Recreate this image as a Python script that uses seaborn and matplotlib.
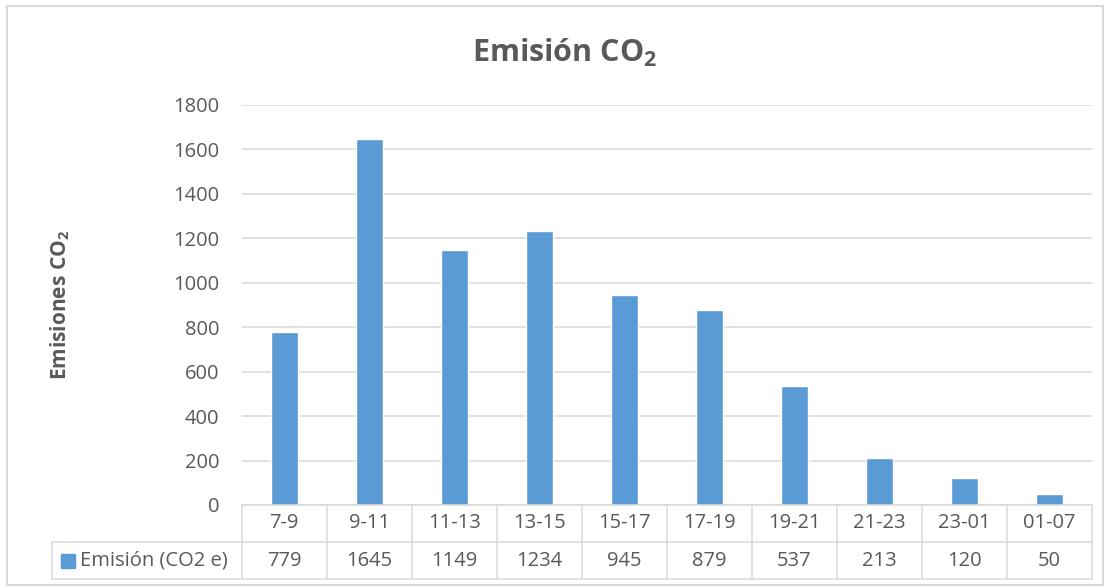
import matplotlib
matplotlib.use("Agg")
import matplotlib.pyplot as plt
import matplotlib.transforms as mtransforms
from matplotlib.patches import Rectangle
import pandas as pd
import seaborn as sns

# datos
franjas = ["7-9", "9-11", "11-13", "13-15", "15-17", "17-19", "19-21", "21-23", "23-01", "01-07"]
emision = [779, 1645, 1149, 1234, 945, 879, 537, 213, 120, 50]
serie = "Emisión (CO2 e)"
yticks = [0, 200, 400, 600, 800, 1000, 1200, 1400, 1600, 1800]

AZUL = "#5b9bd5"
GRIS_TEXTO = "#595959"
GRIS_LINEA = "#d9d9d9"

sns.set_theme(style="white")
plt.rcParams["font.family"] = ["Open Sans", "DejaVu Sans"]
plt.rcParams["mathtext.fontset"] = "custom"
plt.rcParams["mathtext.rm"] = "Open Sans"
plt.rcParams["mathtext.bf"] = "Open Sans:bold"

df = pd.DataFrame({"franja": franjas, "emision": emision})

W, H = 1110, 588
fig = plt.figure(figsize=(W / 100, H / 100), dpi=100)
ax = fig.add_axes([241.7 / W, 1 - 505 / H, 850 / W, 400 / H])

sns.barplot(data=df, x="franja", y="emision", color=AZUL, width=0.32,
            saturation=1, ax=ax)
ax.set_xlim(-0.5, len(franjas) - 0.5)
ax.set_ylim(0, 1800)
ax.set_yticks(yticks)
ax.grid(axis="y", color=GRIS_LINEA, linewidth=1.1)
ax.set_axisbelow(True)
for s in ax.spines.values():
    s.set_visible(False)
ax.tick_params(axis="y", length=0, labelsize=14.5, labelcolor=GRIS_TEXTO, pad=16)
ax.tick_params(axis="x", length=0, labelbottom=False)
ax.set_xlabel("")
ax.set_ylabel("")

# tabla de datos bajo el eje
tr = mtransforms.blended_transform_factory(ax.transData, ax.transAxes)
n = len(franjas)
fila1, fila2 = -0.0925, -0.185
izq = -2.735  # borde izquierdo de la columna de la leyenda
kw = dict(color=GRIS_LINEA, linewidth=1.1, transform=tr, clip_on=False)
ax.plot([-0.5, n - 0.5], [0, 0], **kw)
ax.plot([izq, n - 0.5], [fila1, fila1], **kw)
ax.plot([izq, n - 0.5], [fila2, fila2], **kw)
ax.plot([izq, izq], [fila1, fila2], **kw)
for i in range(n + 1):
    ax.plot([i - 0.5, i - 0.5], [0, fila2], **kw)

for i, (f, v) in enumerate(zip(franjas, emision)):
    ax.text(i, fila1 / 2, f, ha="center", va="center", fontsize=14.5,
            color=GRIS_TEXTO, transform=tr)
    ax.text(i, (fila1 + fila2) / 2, str(v), ha="center", va="center",
            fontsize=14.5, color=GRIS_TEXTO, transform=tr)

ax.plot([-2.544], [(fila1 + fila2) / 2], marker="s", markersize=10,
        color=AZUL, transform=tr, clip_on=False)
ax.text(-2.40, (fila1 + fila2) / 2, serie, ha="left", va="center",
        fontsize=14.5, color=GRIS_TEXTO, transform=tr)

# titulo y etiqueta del eje
fig.text(565 / W, 1 - 53 / H, r"Emisión CO$_\mathbf{2}$", ha="center",
         va="center", fontsize=22, fontweight="bold", color=GRIS_TEXTO)
fig.text(60 / W, 1 - 305 / H, r"Emisiones CO$_\mathbf{2}$", ha="center",
         va="center", rotation=90, fontsize=15, fontweight="bold",
         color=GRIS_TEXTO)

# borde del grafico
fig.patches.append(Rectangle((7 / W, 3 / H), 1096 / W, 579 / H,
                             transform=fig.transFigure, fill=False,
                             edgecolor=GRIS_LINEA, linewidth=1.5))

fig.savefig("out.png", dpi=100)
